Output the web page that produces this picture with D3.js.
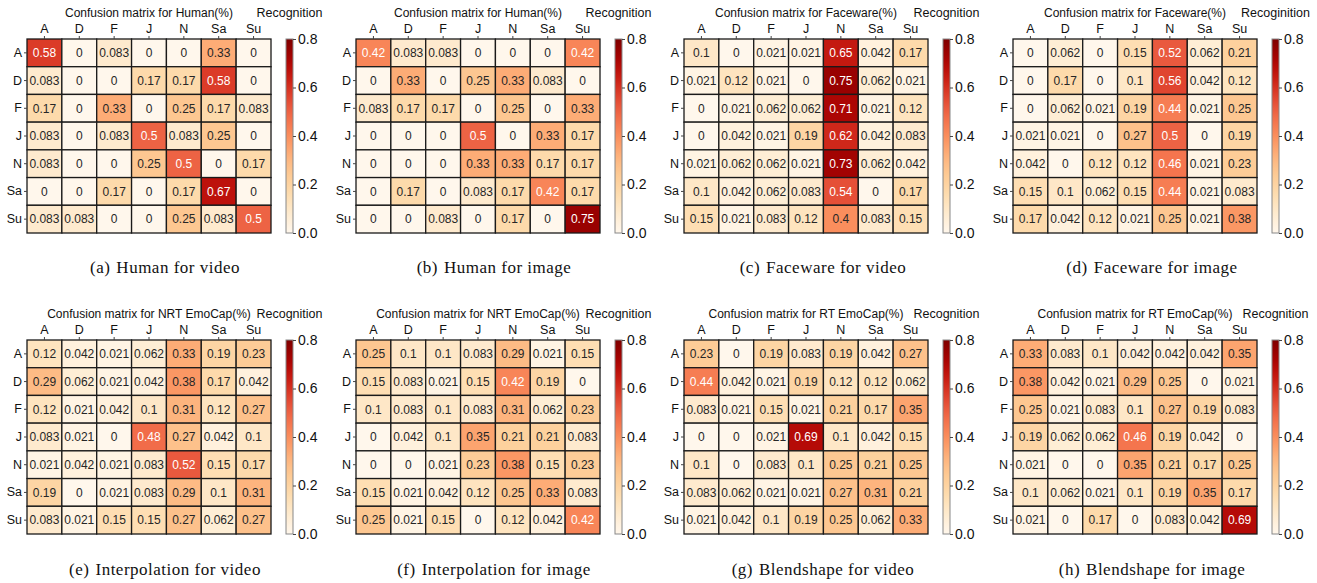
<!DOCTYPE html>
<html>
<head>
<meta charset="utf-8">
<script src="https://cdn.jsdelivr.net/npm/d3@7"></script>
<style>
  body { margin: 0; background: #fff; }
  svg { display: block; }
</style>
</head>
<body>
<svg id="chart" width="1317" height="583"></svg>
<script>
// emotion labels (rows = true, cols = recognised)
var labels = ["A", "D", "F", "J", "N", "Sa", "Su"];

var humanVideo = [
  [0.58, 0, 0.083, 0, 0, 0.33, 0],
  [0.083, 0, 0, 0.17, 0.17, 0.58, 0],
  [0.17, 0, 0.33, 0, 0.25, 0.17, 0.083],
  [0.083, 0, 0.083, 0.5, 0.083, 0.25, 0],
  [0.083, 0, 0, 0.25, 0.5, 0, 0.17],
  [0, 0, 0.17, 0, 0.17, 0.67, 0],
  [0.083, 0.083, 0, 0, 0.25, 0.083, 0.5]
];
var humanImage = [
  [0.42, 0.083, 0.083, 0, 0, 0, 0.42],
  [0, 0.33, 0, 0.25, 0.33, 0.083, 0],
  [0.083, 0.17, 0.17, 0, 0.25, 0, 0.33],
  [0, 0, 0, 0.5, 0, 0.33, 0.17],
  [0, 0, 0, 0.33, 0.33, 0.17, 0.17],
  [0, 0.17, 0, 0.083, 0.17, 0.42, 0.17],
  [0, 0, 0.083, 0, 0.17, 0, 0.75]
];
var facewareVideo = [
  [0.1, 0, 0.021, 0.021, 0.65, 0.042, 0.17],
  [0.021, 0.12, 0.021, 0, 0.75, 0.062, 0.021],
  [0, 0.021, 0.062, 0.062, 0.71, 0.021, 0.12],
  [0, 0.042, 0.021, 0.19, 0.62, 0.042, 0.083],
  [0.021, 0.062, 0.062, 0.021, 0.73, 0.062, 0.042],
  [0.1, 0.042, 0.062, 0.083, 0.54, 0, 0.17],
  [0.15, 0.021, 0.083, 0.12, 0.4, 0.083, 0.15]
];
var facewareImage = [
  [0, 0.062, 0, 0.15, 0.52, 0.062, 0.21],
  [0, 0.17, 0, 0.1, 0.56, 0.042, 0.12],
  [0, 0.062, 0.021, 0.19, 0.44, 0.021, 0.25],
  [0.021, 0.021, 0, 0.27, 0.5, 0, 0.19],
  [0.042, 0, 0.12, 0.12, 0.46, 0.021, 0.23],
  [0.15, 0.1, 0.062, 0.15, 0.44, 0.021, 0.083],
  [0.17, 0.042, 0.12, 0.021, 0.25, 0.021, 0.38]
];
var nrtVideo = [
  [0.12, 0.042, 0.021, 0.062, 0.33, 0.19, 0.23],
  [0.29, 0.062, 0.021, 0.042, 0.38, 0.17, 0.042],
  [0.12, 0.021, 0.042, 0.1, 0.31, 0.12, 0.27],
  [0.083, 0.021, 0, 0.48, 0.27, 0.042, 0.1],
  [0.021, 0.042, 0.021, 0.083, 0.52, 0.15, 0.17],
  [0.19, 0, 0.021, 0.083, 0.29, 0.1, 0.31],
  [0.083, 0.021, 0.15, 0.15, 0.27, 0.062, 0.27]
];
var nrtImage = [
  [0.25, 0.1, 0.1, 0.083, 0.29, 0.021, 0.15],
  [0.15, 0.083, 0.021, 0.15, 0.42, 0.19, 0],
  [0.1, 0.083, 0.1, 0.083, 0.31, 0.062, 0.23],
  [0, 0.042, 0.1, 0.35, 0.21, 0.21, 0.083],
  [0, 0, 0.021, 0.23, 0.38, 0.15, 0.23],
  [0.15, 0.021, 0.042, 0.12, 0.25, 0.33, 0.083],
  [0.25, 0.021, 0.15, 0, 0.12, 0.042, 0.42]
];
var rtVideo = [
  [0.23, 0, 0.19, 0.083, 0.19, 0.042, 0.27],
  [0.44, 0.042, 0.021, 0.19, 0.12, 0.12, 0.062],
  [0.083, 0.021, 0.15, 0.021, 0.21, 0.17, 0.35],
  [0, 0, 0.021, 0.69, 0.1, 0.042, 0.15],
  [0.1, 0, 0.083, 0.1, 0.25, 0.21, 0.25],
  [0.083, 0.062, 0.021, 0.021, 0.27, 0.31, 0.21],
  [0.021, 0.042, 0.1, 0.19, 0.25, 0.062, 0.33]
];
var rtImage = [
  [0.33, 0.083, 0.1, 0.042, 0.042, 0.042, 0.35],
  [0.38, 0.042, 0.021, 0.29, 0.25, 0, 0.021],
  [0.25, 0.021, 0.083, 0.1, 0.27, 0.19, 0.083],
  [0.19, 0.062, 0.062, 0.46, 0.19, 0.042, 0],
  [0.021, 0, 0, 0.35, 0.21, 0.17, 0.25],
  [0.1, 0.062, 0.021, 0.1, 0.19, 0.35, 0.17],
  [0.021, 0, 0.17, 0, 0.083, 0.042, 0.69]
];

var titles = ["Confusion matrix for Human(%)", "Confusion matrix for Human(%)",
  "Confusion matrix for Faceware(%)", "Confusion matrix for Faceware(%)",
  "Confusion matrix for NRT EmoCap(%)", "Confusion matrix for NRT EmoCap(%)",
  "Confusion matrix for RT EmoCap(%)", "Confusion matrix for RT EmoCap(%)"];
var cbarLabels = ["Recognition", "Recognition", "Recognition", "Recoginition",
  "Recognition", "Recognition", "Recognition", "Recognition"];
var captionTags = ["(a)", "(b)", "(c)", "(d)", "(e)", "(f)", "(g)", "(h)"];
var captions = ["Human for video", "Human for image", "Faceware for video", "Faceware for image",
  "Interpolation for video", "Interpolation for image", "Blendshape for video", "Blendshape for image"];
var matrices = [humanVideo, humanImage, facewareVideo, facewareImage,
  nrtVideo, nrtImage, rtVideo, rtImage];
var cbarTicks = [0, 0.2, 0.4, 0.6, 0.8];

var svg = d3.select("#chart");
var sans = "'Liberation Sans', Arial, sans-serif";
var serif = "'Liberation Serif', 'Times New Roman', serif";

var color = d3.scaleSequential(d3.interpolateOrRd).domain([0, 0.8]);

// gradient for the colour bars
var grad = svg.append("defs").append("linearGradient")
  .attr("id", "cbar").attr("x1", 0).attr("y1", 1).attr("x2", 0).attr("y2", 0);
d3.range(0, 1.0001, 0.05).forEach(function(t) {
  grad.append("stop").attr("offset", t).attr("stop-color", color(t * 0.8));
});

var panelLeft = [27, 356, 684, 1013];
var rowTop = [39, 340];
var matW = 244, matH = 194;

matrices.forEach(function(m, k) {
  var col = k % 4, row = Math.floor(k / 4);
  var left = panelLeft[col], top = rowTop[row];

  var g = svg.append("g").attr("transform", "translate(" + left + "," + top + ")");

  var x = d3.scaleBand().domain(labels).range([0, matW]);
  var y = d3.scaleBand().domain(labels).range([0, matH]);

  var cells = [];
  m.forEach(function(r, i) {
    r.forEach(function(v, j) { cells.push({ r: labels[i], c: labels[j], v: v }); });
  });

  g.selectAll("rect.cell").data(cells).enter().append("rect")
    .attr("class", "cell")
    .attr("x", d => x(d.c))
    .attr("y", d => y(d.r))
    .attr("width", x.bandwidth())
    .attr("height", y.bandwidth())
    .attr("fill", d => color(d.v))
    .attr("stroke", "#1a1a1a")
    .attr("stroke-width", 1.3);

  g.selectAll("text.val").data(cells).enter().append("text")
    .attr("class", "val")
    .attr("x", d => x(d.c) + x.bandwidth() / 2)
    .attr("y", d => y(d.r) + y.bandwidth() / 2)
    .attr("dy", "0.36em")
    .attr("text-anchor", "middle")
    .style("font-family", sans)
    .style("font-size", "12px")
    .attr("fill", d => d.v >= 0.41 ? "#ffffff" : "#262626")
    .text(d => String(d.v));

  // axes
  var xAxis = g.append("g").call(d3.axisTop(x).tickSize(3).tickPadding(3));
  var yAxis = g.append("g").call(d3.axisLeft(y).tickSize(3).tickPadding(2));
  [xAxis, yAxis].forEach(function(a) {
    a.select(".domain").remove();
    a.selectAll(".tick line").attr("stroke", "#444");
    a.selectAll("text").style("font-family", sans).style("font-size", "12.5px").attr("fill", "#111");
  });

  // title
  g.append("text")
    .attr("x", matW / 2).attr("y", -22)
    .attr("text-anchor", "middle")
    .style("font-family", sans).style("font-size", "12px").attr("fill", "#111")
    .text(titles[k]);

  // colour bar
  var cbX = 259, cbW = 7;
  var cScale = d3.scaleLinear().domain([0, 0.8]).range([matH, 0]);
  var cb = g.append("g").attr("transform", "translate(" + cbX + ",0)");
  cb.append("rect").attr("width", cbW).attr("height", matH)
    .attr("fill", "url(#cbar)").attr("stroke", "#888").attr("stroke-width", 1);
  var cAxis = cb.append("g").attr("transform", "translate(" + cbW + ",0)")
    .call(d3.axisRight(cScale).tickValues(cbarTicks).tickFormat(d3.format(".1f")).tickSize(3).tickPadding(2));
  cAxis.select(".domain").remove();
  cAxis.selectAll(".tick line").attr("stroke", "#444");
  cAxis.selectAll("text").style("font-family", sans).style("font-size", "14px").attr("fill", "#111");

  g.append("text")
    .attr("x", cbX + cbW / 2).attr("y", -22)
    .attr("text-anchor", "middle")
    .style("font-family", sans).style("font-size", "12.5px").attr("fill", "#111")
    .text(cbarLabels[k]);

  // caption below
  var cap = svg.append("text")
    .attr("x", col * 329 + 165)
    .attr("y", row === 0 ? 273 : 575)
    .attr("text-anchor", "middle")
    .style("font-family", serif).style("font-size", "17px")
    .style("letter-spacing", "0.5px").attr("fill", "#111");
  cap.append("tspan").text(captionTags[k]);
  cap.append("tspan").attr("dx", 6).text(captions[k]);
});
</script>
</body>
</html>
